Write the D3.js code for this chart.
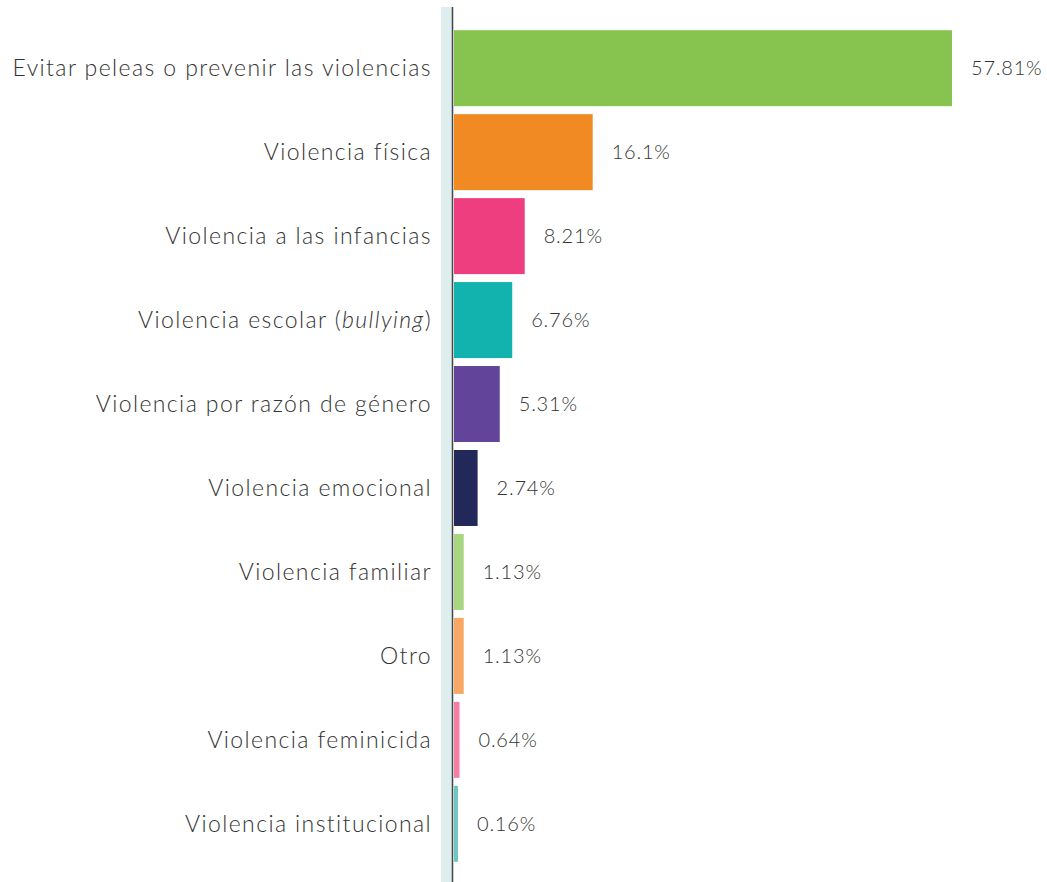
<!DOCTYPE html>
<html>
  <head>
    <meta charset="utf-8">
    <style>
      html, body {
        padding: 0;
        margin: 0;
        overflow: hidden;
        background: #ffffff;
      }
      text {
        font-family: Lato, "Open Sans", sans-serif;
        font-weight: 300;
        fill: #333333;
      }
    </style>
  </head>
  <body>
    <div id="chart"></div>
    <script src="https://cdnjs.cloudflare.com/ajax/libs/d3/7.8.5/d3.min.js"></script>
    <script>
      // data
      let categories = [
        'Evitar peleas o prevenir las violencias',
        'Violencia física',
        'Violencia a las infancias',
        'Violencia escolar (bullying)',
        'Violencia por razón de género',
        'Violencia emocional',
        'Violencia familiar',
        'Otro',
        'Violencia feminicida',
        'Violencia institucional'
      ]
      let values = [57.81, 16.1, 8.21, 6.76, 5.31, 2.74, 1.13, 1.13, 0.64, 0.16]
      let valueLabels = ['57.81%', '16.1%', '8.21%', '6.76%', '5.31%', '2.74%', '1.13%', '1.13%', '0.64%', '0.16%']
      let colors = ['#86c34f', '#f28a23', '#ef3e7f', '#12b2ae', '#62449a',
                    '#22285a', '#a8d57f', '#f7a865', '#f47ea6', '#6dc8c2']

      let width = 1047
      let height = 882

      let svg = d3.select('#chart')
        .append('svg')
        .attr('width', width)
        .attr('height', height)

      let x = d3.scaleLinear()
        .domain([0, 57.81])
        .range([454, 952])

      let y = d3.scaleBand()
        .domain(categories)
        .range([26, 866])
        .paddingInner(0.095)
        .paddingOuter(0.05)

      // light band behind the axis
      svg.append('rect')
        .attr('x', 441)
        .attr('y', 7)
        .attr('width', 11)
        .attr('height', height - 7)
        .attr('fill', '#deeeee')

      svg.selectAll('.bar')
        .data(values)
        .enter().append('rect')
        .attr('class', 'bar')
        .attr('x', x(0))
        .attr('y', (d, i) => y(categories[i]))
        .attr('width', d => Math.max(4, x(d) - x(0)))
        .attr('height', y.bandwidth())
        .attr('fill', (d, i) => colors[i])

      svg.append('line')
        .attr('x1', 452.5)
        .attr('x2', 452.5)
        .attr('y1', 7)
        .attr('y2', height)
        .attr('stroke', '#444444')
        .attr('stroke-width', 1.5)

      // category labels
      let labels = svg.selectAll('.label')
        .data(categories)
        .enter().append('text')
        .attr('class', 'label')
        .attr('x', 432)
        .attr('y', d => y(d) + y.bandwidth() / 2 + 2)
        .attr('text-anchor', 'end')
        .attr('dominant-baseline', 'middle')
        .style('font-size', '23px')
        .style('letter-spacing', '1.4px')

      labels.each(function(d) {
        let t = d3.select(this)
        let m = d.match(/^(.*\()(.*)(\))$/)
        if (m) {
          t.append('tspan').text(m[1])
          t.append('tspan').style('font-style', 'italic').text(m[2])
          t.append('tspan').text(m[3])
        } else {
          t.text(d)
        }
      })

      // value labels
      svg.selectAll('.value')
        .data(values)
        .enter().append('text')
        .attr('class', 'value')
        .attr('x', d => Math.max(x(0) + 4, x(d)) + 19)
        .attr('y', (d, i) => y(categories[i]) + y.bandwidth() / 2 + 2)
        .attr('dominant-baseline', 'middle')
        .style('font-size', '20px')
        .style('letter-spacing', '0.8px')
        .text((d, i) => valueLabels[i])
    </script>
  </body>
</html>
